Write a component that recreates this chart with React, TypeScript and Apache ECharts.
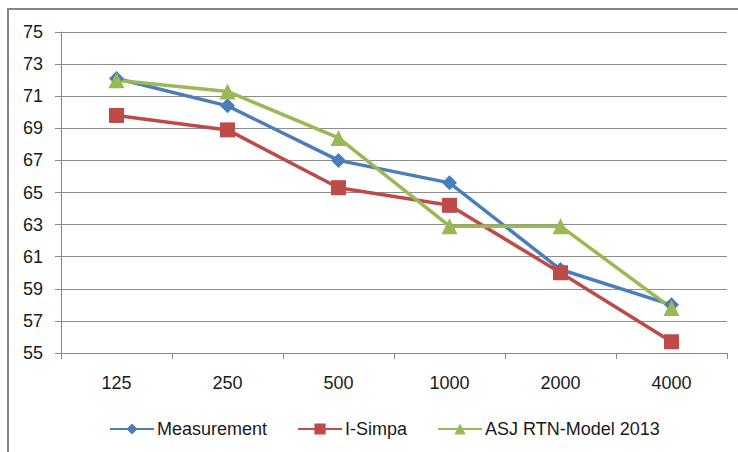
import React, { useEffect, useRef } from "react";
import * as echarts from "echarts";

const categories = ["125", "250", "500", "1000", "2000", "4000"];
const measurement = [72.1, 70.4, 67.0, 65.6, 60.2, 58.0];
const iSimpa = [69.8, 68.9, 65.3, 64.2, 60.0, 55.7];
const asj = [72.0, 71.3, 68.4, 62.9, 62.9, 57.8];
const seriesNames = ["Measurement", "I-Simpa", "ASJ RTN-Model 2013"];

const FONT = "Liberation Sans";

export default function App() {
  const ref = useRef<HTMLDivElement>(null);
  useEffect(() => {
    const chart = echarts.init(ref.current!, null, { renderer: "svg" });
    const mk = (name: string, data: number[], color: string, symbol: string, size: number) => ({
      name,
      type: "line",
      data,
      symbol,
      symbolSize: size,
      showSymbol: true,
      lineStyle: { color, width: 3.5 },
      itemStyle: { color },
    });
    chart.setOption({
      animation: false,
      backgroundColor: "#ffffff",
      textStyle: { fontFamily: FONT },
      graphic: [
        {
          type: "rect",
          shape: { x: 8, y: 9, width: 800, height: 600 },
          style: { fill: "none", stroke: "#868686", lineWidth: 2 },
          z: -1,
        },
      ],
      grid: { left: 61, right: 11, top: 32, bottom: 99, containLabel: false },
      xAxis: {
        type: "category",
        data: categories,
        boundaryGap: true,
        axisLine: { lineStyle: { color: "#868686", width: 1 } },
        axisTick: { show: true, length: 6, lineStyle: { color: "#868686" } },
        axisLabel: { color: "#1a1a1a", fontSize: 18, margin: 21, fontFamily: FONT },
      },
      yAxis: {
        type: "value",
        min: 55,
        max: 75,
        interval: 2,
        axisLine: { show: true, lineStyle: { color: "#868686", width: 1 } },
        axisTick: { show: true, length: 6, lineStyle: { color: "#868686" } },
        axisLabel: { color: "#1a1a1a", fontSize: 18, margin: 18, fontFamily: FONT },
        splitLine: { show: true, lineStyle: { color: "#8c8c8c", width: 1 } },
      },
      legend: {
        data: seriesNames,
        bottom: 9,
        left: 104,
        itemWidth: 44,
        itemHeight: 14,
        itemGap: 30,
        textStyle: { color: "#1a1a1a", fontSize: 18, fontFamily: FONT, padding: [0, 0, 0, -2] },
      },
      series: [
        mk(seriesNames[0], measurement, "#4a7ebb", "diamond", 15),
        mk(seriesNames[1], iSimpa, "#be4b48", "rect", 15),
        mk(seriesNames[2], asj, "#98b954", "triangle", 16),
      ],
    });
    return () => chart.dispose();
  }, []);
  return (
    <div
      ref={ref}
      style={{ position: "fixed", left: 0, top: 0, width: 738, height: 452 }}
    />
  );
}
